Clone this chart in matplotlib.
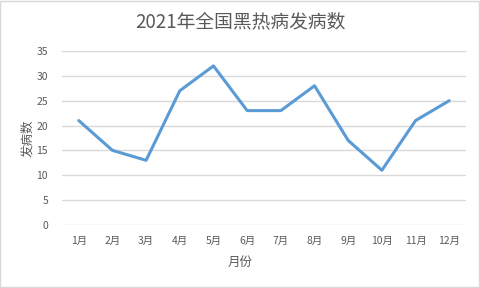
import matplotlib.pyplot as plt
from matplotlib.patches import Rectangle

plt.rcParams['font.family'] = ['Noto Sans CJK SC', 'DejaVu Sans']

months = ['1月', '2月', '3月', '4月', '5月', '6月', '7月', '8月', '9月', '10月', '11月', '12月']
cases = [21, 15, 13, 27, 32, 23, 23, 28, 17, 11, 21, 25]
y_ticks = [0, 5, 10, 15, 20, 25, 30, 35]

text_color = '#595959'
grid_color = '#D9D9D9'

fig = plt.figure(figsize=(4.8, 2.88), dpi=100)
ax = fig.add_axes([0.129, 0.219, 0.842, 0.604])

x = list(range(len(months)))
ax.plot(x, cases, color='#5B9BD5', linewidth=2.2, solid_joinstyle='round', solid_capstyle='round')

ax.set_xlim(-0.5, len(months) - 0.5)
ax.set_ylim(0, 35)
ax.set_yticks(y_ticks)
ax.set_xticks(x)
ax.set_xticklabels(months)
ax.grid(axis='y', color=grid_color, linewidth=1)
ax.set_axisbelow(True)
for s in ax.spines.values():
    s.set_visible(False)
ax.tick_params(length=0, labelsize=7.5, labelcolor=text_color)
ax.tick_params(axis='x', pad=8)
ax.tick_params(axis='y', pad=10)

fig.text(0.5, 0.924, '2021年全国黑热病发病数', ha='center', va='center', fontsize=13.5, color=text_color)
fig.text(0.5, 0.09, '月份', ha='center', va='center', fontsize=9, color=text_color)
fig.text(0.058, 0.52, '发病数', ha='center', va='center', rotation=90, fontsize=9, color=text_color)

fig.patches.append(Rectangle((0.001, 0.002), 0.997, 0.995, transform=fig.transFigure,
                             fill=False, edgecolor=grid_color, linewidth=1))

fig.savefig('out.png', dpi=100)
